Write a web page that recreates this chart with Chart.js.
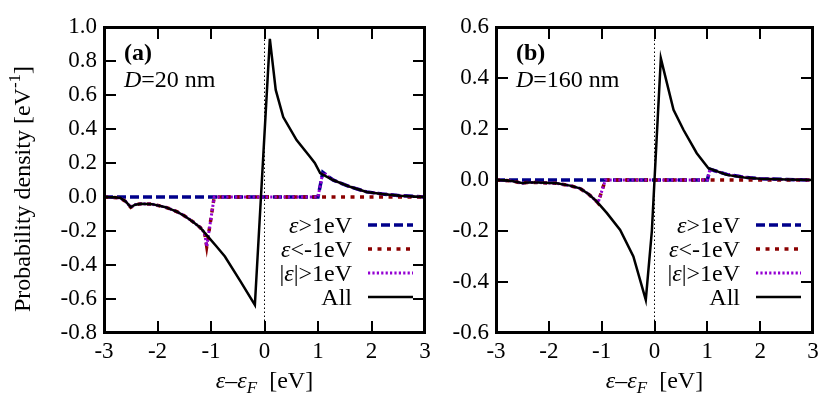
<!DOCTYPE html>
<html>
<head>
<meta charset="utf-8">
<script src="https://cdn.jsdelivr.net/npm/chart.js@4.4.1/dist/chart.umd.min.js"></script>
<style>
  body { margin: 0; background: #fff; }
  #wrap { position: relative; width: 830px; height: 415px; }
  .panel { position: absolute; top: 0; height: 415px; }
</style>
</head>
<body>
<div id="wrap">
  <div class="panel" style="left:0;width:440px"><canvas id="chartA"></canvas></div>
  <div class="panel" style="left:440px;width:390px"><canvas id="chartB"></canvas></div>
</div>
<script>
'use strict';

// Tick values
var xTicks = [-3, -2, -1, 0, 1, 2, 3];
var yTicksA = [-0.8, -0.6, -0.4, -0.2, 0.0, 0.2, 0.4, 0.6, 0.8, 1.0];
var yTicksB = [-0.6, -0.4, -0.2, 0.0, 0.2, 0.4, 0.6];

// Panel (a), D = 20 nm
var allXA = [-3, -2.7, -2.6, -2.5, -2.42, -2.3, -2.1, -1.85, -1.64, -1.5, -1.34, -1.2, -1.08, -0.9, -0.74, -0.46, -0.18, 0.1, 0.21, 0.35, 0.6, 0.85, 0.94, 1.04, 1.28, 1.6, 1.91, 2.2, 2.53, 3];
var allYA = [0, -0.005, -0.025, -0.06, -0.045, -0.04, -0.042, -0.06, -0.086, -0.11, -0.145, -0.18, -0.224, -0.29, -0.35, -0.49, -0.635, 0.93, 0.63, 0.47, 0.335, 0.237, 0.2, 0.14, 0.10, 0.06, 0.03, 0.018, 0.008, 0];
var hiXA = [-3, 1.0, 1.09, 1.28, 1.6, 1.91, 2.2, 2.53, 3];
var hiYA = [0, 0, 0.145, 0.10, 0.06, 0.03, 0.018, 0.008, 0];
var loXA = [-3, -2.7, -2.6, -2.5, -2.42, -2.3, -2.1, -1.85, -1.64, -1.5, -1.34, -1.2, -1.12, -1.08, -0.94, 3];
var loYA = [0, -0.005, -0.025, -0.06, -0.045, -0.04, -0.042, -0.06, -0.086, -0.11, -0.145, -0.18, -0.21, -0.29, 0, 0];
var absXA = [-3, -2.7, -2.6, -2.5, -2.42, -2.3, -2.1, -1.85, -1.64, -1.5, -1.34, -1.2, -1.12, -1.08, -0.94, 1.0, 1.09, 1.28, 1.6, 1.91, 2.2, 2.53, 3];
var absYA = [0, -0.005, -0.025, -0.06, -0.045, -0.04, -0.042, -0.06, -0.086, -0.11, -0.145, -0.18, -0.21, -0.29, 0, 0, 0.145, 0.10, 0.06, 0.03, 0.018, 0.008, 0];

// Panel (b), D = 160 nm
var allXB = [-3, -2.7, -2.49, -2.42, -2.2, -1.85, -1.6, -1.41, -1.25, -1.09, -0.9, -0.65, -0.4, -0.165, -0.05, 0.0, 0.12, 0.36, 0.55, 0.8, 1.02, 1.37, 1.7, 2.0, 2.5, 3];
var allYB = [0, -0.004, -0.013, -0.01, -0.01, -0.013, -0.022, -0.033, -0.055, -0.085, -0.13, -0.196, -0.30, -0.47, -0.2, 0.0, 0.477, 0.275, 0.196, 0.105, 0.046, 0.02, 0.01, 0.005, 0.002, 0];
var hiXB = [-3, 1.0, 1.05, 1.37, 1.7, 2.0, 2.5, 3];
var hiYB = [0, 0, 0.042, 0.022, 0.011, 0.005, 0.002, 0];
var loXB = [-3, -2.7, -2.49, -2.42, -2.2, -1.85, -1.6, -1.41, -1.25, -1.09, -1.07, -0.93, 3];
var loYB = [0, -0.004, -0.013, -0.01, -0.01, -0.013, -0.022, -0.033, -0.055, -0.085, -0.09, 0, 0];
var absXB = [-3, -2.7, -2.49, -2.42, -2.2, -1.85, -1.6, -1.41, -1.25, -1.09, -1.07, -0.93, 1.0, 1.05, 1.37, 1.7, 2.0, 2.5, 3];
var absYB = [0, -0.004, -0.013, -0.01, -0.01, -0.013, -0.022, -0.033, -0.055, -0.085, -0.09, 0, 0, 0.042, 0.022, 0.011, 0.005, 0.002, 0];

// Fermi level marker
var fermiX = [0, 0];
var fermiYA = [-0.8, 1.0];
var fermiYB = [-0.6, 0.6];

var FONT = '"Liberation Serif", "Times New Roman", serif';

function pts(xs, ys) {
    return xs.map(function (x, i) { return { x: x, y: ys[i] }; });
}

// Draw a run of text pieces with mixed styles (italic, sub/superscript)
function drawRich(ctx, parts, x, y, size, align) {
    var total = 0;
    parts.forEach(function (p) {
        ctx.font = (p.i ? 'italic ' : '') + (p.b ? 'bold ' : '') + Math.round(size * (p.s || 1)) + 'px ' + FONT;
        p.w = ctx.measureText(p.t).width;
        total += p.w;
    });
    var cx = align === 'right' ? x - total : align === 'center' ? x - total / 2 : x;
    parts.forEach(function (p) {
        ctx.font = (p.i ? 'italic ' : '') + (p.b ? 'bold ' : '') + Math.round(size * (p.s || 1)) + 'px ' + FONT;
        ctx.fillText(p.t, cx, y + (p.dy || 0) * size);
        cx += p.w;
    });
}

var legendItems = [
    { parts: [{ t: 'ε', i: true }, { t: '>1eV' }], color: '#00008b', width: 3.5, dash: [9, 4] },
    { parts: [{ t: 'ε', i: true }, { t: '<-1eV' }], color: '#8b0000', width: 3.5, dash: [4, 5.5] },
    { parts: [{ t: '|' }, { t: 'ε', i: true }, { t: '|>1eV' }], color: '#9400d3', width: 3, dash: [2.2, 2.2] },
    { parts: [{ t: 'All' }], color: '#000', width: 2.5, dash: [] }
];

function makeDecor(label, dText, withYTitle) {
    return {
        id: 'decor',
        afterDraw: function (chart) {
            var ctx = chart.ctx, a = chart.chartArea;
            var xs = chart.scales.x, ys = chart.scales.y;
            var L = Math.round(a.left), R = Math.round(a.right), T = Math.round(a.top), B = Math.round(a.bottom);
            ctx.save();
            ctx.fillStyle = '#000';
            // frame (each side as its own bar)
            ctx.fillRect(L - 1, T - 1, R - L + 2, 3);
            ctx.fillRect(L - 1, B - 2, R - L + 2, 3);
            ctx.fillRect(L - 1, T - 1, 3, B - T + 2);
            ctx.fillRect(R - 2, T - 1, 3, B - T + 2);
            // inward ticks on all four sides
            xTicks.forEach(function (v) {
                var px = Math.round(xs.getPixelForValue(v));
                ctx.fillRect(px - 1, B - 12, 2, 12);
                ctx.fillRect(px - 1, T, 2, 12);
            });
            ys.ticks.forEach(function (t) {
                var py = Math.round(ys.getPixelForValue(t.value));
                ctx.fillRect(L, py - 1, 12, 2);
                ctx.fillRect(R - 12, py - 1, 12, 2);
            });

            // legend: text right aligned, sample on the right
            ctx.textBaseline = 'alphabetic';
            legendItems.forEach(function (it, k) {
                var base = T + 206 + k * 24;
                ctx.fillStyle = '#000';
                drawRich(ctx, it.parts, R - 73, base, 24, 'right');
                ctx.strokeStyle = it.color;
                ctx.lineWidth = it.width;
                ctx.setLineDash(it.dash);
                ctx.beginPath();
                ctx.moveTo(R - 57, base - 8);
                ctx.lineTo(R - 12, base - 8);
                ctx.stroke();
            });
            ctx.setLineDash([]);
            ctx.fillStyle = '#000';

            // panel label
            drawRich(ctx, [{ t: label, b: true }], L + 20, 60, 24, 'left');
            drawRich(ctx, [{ t: 'D', i: true }, { t: dText }], L + 20, 87, 24, 'left');

            // x title
            drawRich(ctx, [{ t: 'ε', i: true }, { t: '–' }, { t: 'ε', i: true }, { t: 'F', i: true, s: 0.7, dy: 0.22 }, { t: '  [eV]' }],
                (L + R) / 2, 388, 24, 'center');

            if (withYTitle) {
                ctx.translate(30, 189);
                ctx.rotate(-Math.PI / 2);
                drawRich(ctx, [{ t: 'Probability density [eV' }, { t: '-1', s: 0.7, dy: -0.4 }, { t: ']' }], 0, 0, 24, 'center');
            }
            ctx.restore();
        }
    };
}

function lineSet(data, color, width, dash, order) {
    return {
        data: data, borderColor: color, borderWidth: width, borderDash: dash,
        pointRadius: 0, tension: 0, fill: false, order: order
    };
}

function makeChart(id, p) {
    return new Chart(document.getElementById(id), {
        type: 'line',
        data: {
            datasets: [
                lineSet(pts(p.allX, p.allY), '#000', 2.5, [], 0),
                lineSet(pts(p.absX, p.absY), '#9400d3', 3, [2.2, 2.2], 1),
                lineSet(pts(p.loX, p.loY), '#8b0000', 3.5, [4, 5.5], 2),
                lineSet(pts(p.hiX, p.hiY), '#00008b', 3.5, [9, 4], 3),
                lineSet(pts(fermiX, p.fermiY), '#000', 1, [1.5, 2.5], 4)
            ]
        },
        options: {
            responsive: true,
            maintainAspectRatio: false,
            animation: false,
            layout: { padding: { top: 27, right: p.padRight, left: 0, bottom: 0 } },
            plugins: { legend: { display: false }, tooltip: { enabled: false } },
            scales: {
                x: {
                    type: 'linear', min: -3, max: 3,
                    grid: { display: false, drawTicks: false }, border: { display: false },
                    afterBuildTicks: function (s) { s.ticks = xTicks.map(function (v) { return { value: v }; }); },
                    afterFit: function (s) { s.height = 82; },
                    ticks: { color: '#000', padding: 5, font: { family: FONT, size: 23 }, maxRotation: 0,
                        callback: function (v) { return String(v); } }
                },
                y: {
                    type: 'linear', min: p.yTicks[0], max: p.yTicks[p.yTicks.length - 1],
                    grid: { display: false, drawTicks: false }, border: { display: false },
                    afterBuildTicks: function (s) { s.ticks = p.yTicks.map(function (v) { return { value: v }; }); },
                    afterFit: function (s) { s.width = p.yWidth; },
                    ticks: { color: '#000', padding: 7, font: { family: FONT, size: 23 },
                        callback: function (v) { return Math.abs(v) < 1e-9 ? '0.0' : v.toFixed(1); } }
                }
            }
        },
        plugins: [makeDecor(p.label, p.dText, p.yTitle)]
    });
}

makeChart('chartA', {
    allX: allXA, allY: allYA, hiX: hiXA, hiY: hiYA, loX: loXA, loY: loYA, absX: absXA, absY: absYA,
    fermiY: fermiYA, yTicks: yTicksA, yWidth: 104, padRight: 15,
    label: '(a)', dText: '=20 nm', yTitle: true
});
makeChart('chartB', {
    allX: allXB, allY: allYB, hiX: hiXB, hiY: hiYB, loX: loXB, loY: loYB, absX: absXB, absY: absYB,
    fermiY: fermiYB, yTicks: yTicksB, yWidth: 56, padRight: 17,
    label: '(b)', dText: '=160 nm', yTitle: false
});
</script>
</body>
</html>
